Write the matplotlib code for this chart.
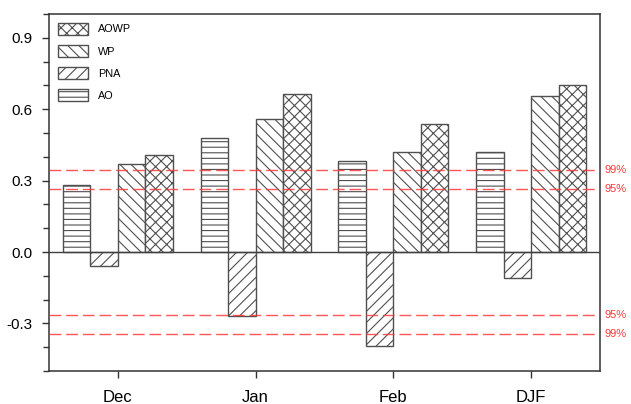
import numpy as np
import matplotlib
matplotlib.use("Agg")
import matplotlib.pyplot as plt
from matplotlib.ticker import MultipleLocator

plt.rcParams['font.family'] = ['Liberation Sans', 'DejaVu Sans']
plt.rcParams['hatch.linewidth'] = 0.8
plt.rcParams['hatch.color'] = '#505050'

months = ["Dec", "Jan", "Feb", "DJF"]
AO = [0.28, 0.48, 0.381, 0.42]
PNA = [-0.058, -0.269, -0.396, -0.111]
WP = [0.368, 0.557, 0.421, 0.654]
AOWP = [0.407, 0.665, 0.537, 0.70]

sig95 = 0.266
sig99 = 0.343

series = [("AO", AO, "---"), ("PNA", PNA, "///"), ("WP", WP, "\\\\\\"), ("AOWP", AOWP, "xxx")]

fig = plt.figure(figsize=(6.31, 4.04), dpi=100)
ax = fig.add_axes([49/631, 33/404, 551/631, 357/404])

x = np.arange(len(months))
w = 0.2
bars = {}
for i, (name, vals, hatch) in enumerate(series):
    bars[name] = ax.bar(x + (i - 1.5) * w, vals, w, facecolor='white', edgecolor='#505050',
                        linewidth=1.0, hatch=hatch, label=name, zorder=2)

ax.axhline(0, color='#404040', lw=1.0, zorder=3)

red = '#ff3838'
for v in [sig99, sig95, -sig95, -sig99]:
    ax.axhline(v, color=red, lw=1.0, dashes=(8.5, 3.5), alpha=0.85, zorder=4)
for v, lab in [(sig99, "99%"), (sig95, "95%"), (-sig95, "95%"), (-sig99, "99%")]:
    ax.text(1.008, v, lab, transform=ax.get_yaxis_transform(), color=red,
            fontsize=8, va='center', ha='left')

ax.set_xlim(-0.5, 3.5)
ax.set_ylim(-0.5, 1.0)
ax.set_xticks(x)
ax.set_xticklabels(months, fontsize=12)
ax.set_yticks([-0.3, 0.0, 0.3, 0.6, 0.9])
ax.set_yticklabels(["-0.3", "0.0", "0.3", "0.6", "0.9"], fontsize=11)
ax.yaxis.set_minor_locator(MultipleLocator(0.1))
ax.tick_params(axis='x', direction='out', length=5, width=1.0, pad=8.5, color='#333333')
ax.tick_params(axis='y', which='major', direction='out', length=5, width=1.0, pad=7, color='#333333')
ax.tick_params(axis='y', which='minor', direction='out', length=4.3, width=1.0, color='#333333')
for s in ax.spines.values():
    s.set_color('#333333')
    s.set_linewidth(1.1)

handles = [bars["AOWP"], bars["WP"], bars["PNA"], bars["AO"]]
ax.legend(handles, ["AOWP", "WP", "PNA", "AO"], loc='upper left',
          bbox_to_anchor=(0.0163, 0.975), frameon=False, fontsize=7.8,
          borderpad=0, borderaxespad=0, handlelength=2.8, handleheight=1.3,
          handletextpad=0.9, labelspacing=0.95)

fig.savefig("out.png", dpi=100)
